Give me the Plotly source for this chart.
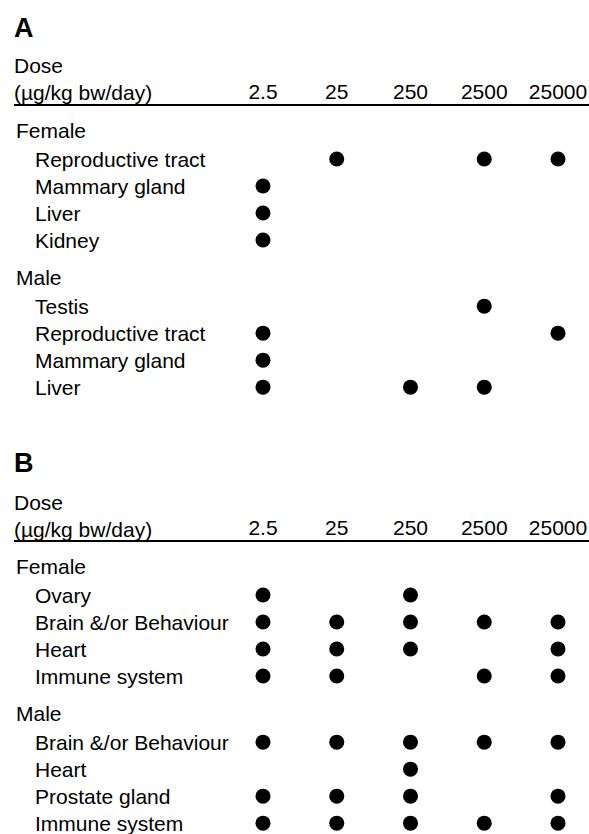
import plotly.graph_objects as go

W, H = 589, 834
FONT = "Liberation Sans, Arial, sans-serif"
FS = 21

doses = ["2.5", "25", "250", "2500", "25000"]

# Panel A
a_female_rows = ["Reproductive tract", "Mammary gland", "Liver", "Kidney"]
a_female_hits = [["25", "2500", "25000"], ["2.5"], ["2.5"], ["2.5"]]
a_male_rows = ["Testis", "Reproductive tract", "Mammary gland", "Liver"]
a_male_hits = [["2500"], ["2.5", "25000"], ["2.5"], ["2.5", "250", "2500"]]

# Panel B
b_female_rows = ["Ovary", "Brain &/or Behaviour", "Heart", "Immune system"]
b_female_hits = [["2.5", "250"], ["2.5", "25", "250", "2500", "25000"],
                 ["2.5", "25", "250", "25000"], ["2.5", "25", "2500", "25000"]]
b_male_rows = ["Brain &/or Behaviour", "Heart", "Prostate gland", "Immune system"]
b_male_hits = [["2.5", "25", "250", "2500", "25000"], ["250"],
               ["2.5", "25", "250", "25000"], ["2.5", "25", "250", "2500", "25000"]]

group_names = ["Female", "Male"]
panels = [
    ("A", [(a_female_rows, a_female_hits), (a_male_rows, a_male_hits)]),
    ("B", [(b_female_rows, b_female_hits), (b_male_rows, b_male_hits)]),
]

# layout geometry (pixels)
ML = 14
UNIT = 27.0
line_px = [106, 542]
bottom_px = [400, 834]
letter_px = [28, 463]
dose_px = [66, 502]
unit_px = [93, 529]
GROUP_GAP = 0.45
HEADER_SHIFT = -0.05
TOP_OFF = -0.963

def py(px):
    return 1 - px / H

fig = go.Figure()
annotations = []
layout = {}

for p, (letter, groups) in enumerate(panels):
    xa = "x" if p == 0 else "x2"
    ya = "y" if p == 0 else "y2"
    xs, ys = [], []
    pos = 0.0
    for g, (rows, hits) in enumerate(groups):
        annotations.append(dict(xref="paper", yref=ya, x=(14 - ML) / (W - ML), y=pos + HEADER_SHIFT,
                                text=group_names[g], showarrow=False, xanchor="left",
                                yanchor="middle", font=dict(size=FS, family=FONT, color="black")))
        for r, (row, h) in enumerate(zip(rows, hits)):
            rp = pos + 1 + r
            annotations.append(dict(xref="paper", yref=ya, x=(33 - ML) / (W - ML), y=rp,
                                    text=row, showarrow=False, xanchor="left",
                                    yanchor="middle", font=dict(size=FS, family=FONT, color="black")))
            for d in h:
                xs.append(d)
                ys.append(rp)
        pos += len(rows) + 1 + GROUP_GAP
    fig.add_trace(go.Scatter(x=xs, y=ys, mode="markers", xaxis=xa, yaxis=ya,
                             marker=dict(size=15, color="black"), showlegend=False,
                             hoverinfo="skip", cliponaxis=False))
    top = line_px[p]
    bot = bottom_px[p]
    height = bot - top
    ymax = TOP_OFF + height / UNIT
    sfx = "" if p == 0 else "2"
    layout["xaxis" + sfx] = dict(type="category", categoryarray=doses, categoryorder="array",
                                 range=[-(263 - ML) / 73.75, 4 + (W - 558) / 73.75],
                                 side="top", anchor=ya, domain=[0, 1],
                                 showline=True, linecolor="black", linewidth=2,
                                 showgrid=False, zeroline=False, ticks="",
                                 tickfont=dict(size=FS, family=FONT, color="black"),
                                 fixedrange=True)
    layout["yaxis" + sfx] = dict(range=[ymax, TOP_OFF], domain=[py(bot), py(top)],
                                 anchor=xa, showgrid=False, zeroline=False,
                                 showticklabels=False, showline=False, ticks="",
                                 fixedrange=True)
    annotations.append(dict(xref="paper", yref="paper", x=(12 - ML) / (W - ML), y=py(letter_px[p]),
                            text="<b>" + letter + "</b>", showarrow=False, xanchor="left",
                            yanchor="middle", font=dict(size=27, family=FONT, color="black")))
    annotations.append(dict(xref="paper", yref="paper", x=(12 - ML) / (W - ML), y=py(dose_px[p]),
                            text="Dose", showarrow=False, xanchor="left",
                            yanchor="middle", font=dict(size=FS, family=FONT, color="black")))
    annotations.append(dict(xref="paper", yref="paper", x=(12 - ML) / (W - ML), y=py(unit_px[p]),
                            text="(µg/kg bw/day)", showarrow=False, xanchor="left",
                            yanchor="middle", font=dict(size=FS, family=FONT, color="black")))

fig.update_layout(width=W, height=H, margin=dict(l=ML, r=0, t=0, b=0),
                  paper_bgcolor="white", plot_bgcolor="white",
                  annotations=annotations, font=dict(family=FONT, color="black"),
                  **layout)

try:
    fig.update_xaxes(ticklabelstandoff=-3)
except Exception:
    pass

fig.write_html("out.html", config={"displayModeBar": False},
               post_script="document.body.style.margin='0';document.body.style.overflow='hidden';")
